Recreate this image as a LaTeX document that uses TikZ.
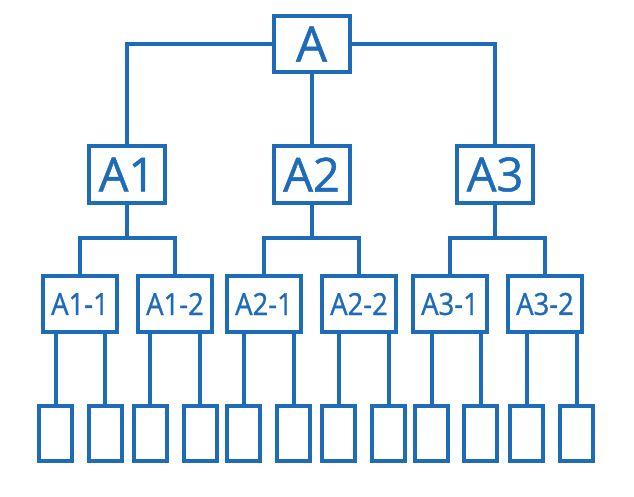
\documentclass[tikz,border=0pt]{standalone}
\usepackage{fontspec}
\newfontfamily\labelfont{Open Sans}[FakeBold=1]
\newfontfamily\sublabelfont{Open Sans}[FakeBold=1, FakeStretch=0.9]
\definecolor{treeblue}{RGB}{30,107,184}
\begin{document}
\begin{tikzpicture}[x=1pt,y=-1pt,
  link/.style={draw=treeblue, line width=4pt},
  topbox/.style={draw=treeblue, line width=4pt, fill=white, inner sep=0pt,
    minimum width=76pt, minimum height=56pt, text=treeblue,
    font=\labelfont\fontsize{49}{49}\selectfont},
  midbox/.style={topbox, minimum height=57pt, font=\labelfont\fontsize{47}{47}\selectfont},
  subbox/.style={topbox, minimum width=74pt, minimum height=56pt,
    font=\sublabelfont\fontsize{30.5}{30.5}\selectfont},
  leafbox/.style={draw=treeblue, line width=4pt, fill=white, inner sep=0pt,
    minimum width=33pt, minimum height=55pt}]
\useasboundingbox (0,0) rectangle (634,496);

% root and second level
\node[topbox] (A) at (311.5,44) {A};
\node[midbox] (A1) at (127,174.5) {A1};
\node[midbox] (A2) at (311.5,174.5) {A2};
\node[midbox] (A3) at (495,174.5) {A3};

% third level
\foreach \n/\x/\t in {A11/80/A1-1, A12/175/A1-2, A21/264/A2-1,
                      A22/359/A2-2, A31/450/A3-1, A32/545/A3-2}
  \node[subbox] (\n) at (\x,304) {\t};

% leaves
\foreach \n/\x in {L1/55.5, L2/105, L3/150, L4/200, L5/243.5, L6/293.5,
                   L7/338.5, L8/388.5, L9/431.5, L10/480.5, L11/526.5, L12/576.5}
  \node[leafbox] (\n) at (\x,433.5) {};

% root to second level
\draw[link] (A.west) -| (A1.north);
\draw[link] (A.east) -| (A3.north);
\draw[link] (A.south) -- (A2.north);

% second level to third level through a bus line
\coordinate (b1) at (127,238);
\coordinate (b2) at (311.5,238);
\coordinate (b3) at (495,238);
\draw[link] (A1.south) -- (b1);
\draw[link] (A2.south) -- (b2);
\draw[link] (A3.south) -- (b3);
\draw[link] (A11.north) |- (b1) -| (A12.north);
\draw[link] (A21.north) |- (b2) -| (A22.north);
\draw[link] (A31.north) |- (b3) -| (A32.north);

% third level to leaves
\foreach \l/\p in {L1/A11, L2/A11, L3/A12, L4/A12, L5/A21, L6/A21,
                   L7/A22, L8/A22, L9/A31, L10/A31, L11/A32, L12/A32}
  \draw[link] (\l.north) -- (\l.north |- \p.south);
\end{tikzpicture}
\end{document}
